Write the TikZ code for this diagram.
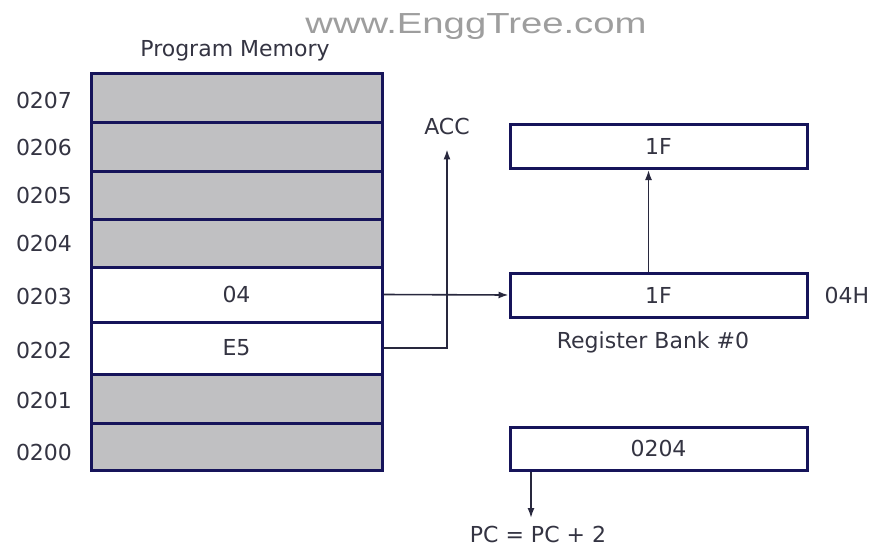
\documentclass[tikz,border=0pt]{standalone}
\usepackage{fontspec}
\setmainfont{DejaVu Sans}
\newfontfamily\wmfont{Liberation Sans}
\usepackage{xcolor}
\usetikzlibrary{arrows.meta,positioning,calc}
\definecolor{boxnavy}{RGB}{22,20,90}
\definecolor{cellgray}{RGB}{192,192,194}
\definecolor{txtgray}{RGB}{52,52,66}
\definecolor{wiredark}{RGB}{40,40,62}

\begin{document}
\begin{tikzpicture}[x=0.5pt, y=-0.5pt,
    every node/.style={text=txtgray, font=\fontsize{11}{13}\selectfont},
    memcell/.style={rectangle, draw=boxnavy, line width=1.5pt, minimum width=145.5pt, inner sep=0pt},
    used/.style={memcell, fill=white},
    empty/.style={memcell, fill=cellgray},
    regbox/.style={rectangle, draw=boxnavy, line width=1.5pt, fill=white, minimum width=148.5pt, minimum height=22pt, inner sep=0pt},
    addr/.style={inner sep=0pt},
    wire/.style={draw=wiredark, line width=0.8pt, -{Latex[length=5pt,width=3.5pt]}}
]
    \useasboundingbox (0,0) rectangle (871,546);

    % watermark
    \node[anchor=base, text=black!38, font=\wmfont\fontsize{14.5}{16}\selectfont, xscale=1.32] (mark) at (476,33) {www.EnggTree.com};

    % program memory
    \node (pmtitle) at (235,51) {Program Memory};
    \node[empty, minimum height=24.5pt] (m0207) at (236.5,97.5) {};
    \node[empty, minimum height=24.5pt] (m0206) at (236.5,146.5) {};
    \node[empty, minimum height=24pt] (m0205) at (236.5,195) {};
    \node[empty, minimum height=24pt] (m0204) at (236.5,243) {};
    \node[used, minimum height=27.5pt] (m0203) at (236.5,294.5) {04};
    \node[used, minimum height=26pt] (m0202) at (236.5,348) {E5};
    \node[empty, minimum height=24.5pt] (m0201) at (236.5,398.5) {};
    \node[empty, minimum height=23.5pt] (m0200) at (236.5,446.5) {};

    \node[addr] (a0207) at (44,100) {0207};
    \node[addr] (a0206) at (44,147) {0206};
    \node[addr] (a0205) at (44,195) {0205};
    \node[addr] (a0204) at (44,243) {0204};
    \node[addr] (a0203) at (44,296) {0203};
    \node[addr] (a0202) at (44,350) {0202};
    \node[addr] (a0201) at (44,400) {0201};
    \node[addr] (a0200) at (44,452) {0200};

    % accumulator and register bank
    \node (acc) at (447,126) {ACC};
    \node[regbox] (r1) at (658.5,146.5) {1F};
    \node[regbox] (r0) at (658.5,295) {1F};
    \node[addr] (r0addr) at (847,295) {04H};
    \node (bank) at (653,342) {Register Bank \#0};

    % program counter
    \node[regbox, minimum height=21.5pt] (pc) at (658.5,448.5) {0204};
    \node[inner sep=1pt] (pcinc) at (538,534) {PC = PC + 2};
    \coordinate (pcend) at (531,518);

    \draw[wire] (m0202.east) -| ([yshift=-4pt]acc.south);
    \draw[wire] (m0203.east) -- (r0.west);
    \draw[wire] ([xshift=-5pt]r0.north) -- ([xshift=-5pt]r1.south);
    \draw[wire] (pc.south -| pcend) -- (pcend);
\end{tikzpicture}
\end{document}
